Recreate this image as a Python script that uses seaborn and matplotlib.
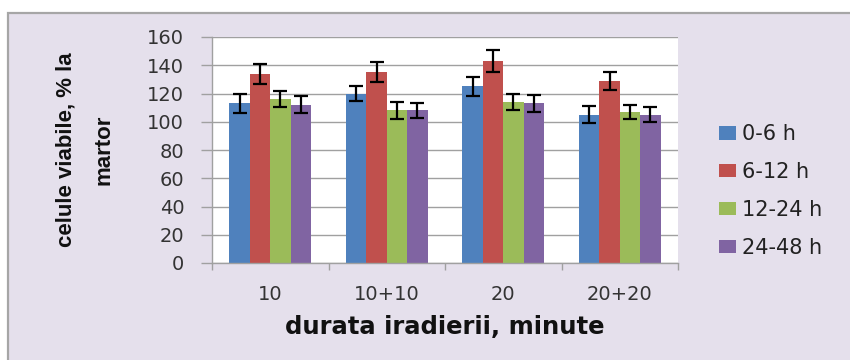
import matplotlib
matplotlib.use("Agg")
import matplotlib.pyplot as plt
import seaborn as sns
import pandas as pd
import numpy as np
from matplotlib.patches import Rectangle
from matplotlib.ticker import FixedLocator
from matplotlib import font_manager

# ---- data ----
categories = ["10", "10+10", "20", "20+20"]
series = ["0-6 h", "6-12 h", "12-24 h", "24-48 h"]
v_0_6 = [113, 120, 125, 105]
v_6_12 = [134, 135, 143, 129]
v_12_24 = [116, 108, 114, 107]
v_24_48 = [112, 108, 113, 105]
e_0_6 = [6.5, 5.5, 6.5, 6]
e_6_12 = [7, 7, 8, 6.5]
e_12_24 = [5.5, 6, 6, 5]
e_24_48 = [6, 5, 6, 5.5]
y_ticks = [0, 20, 40, 60, 80, 100, 120, 140, 160]

values = [v_0_6, v_6_12, v_12_24, v_24_48]
errors = [e_0_6, e_6_12, e_12_24, e_24_48]
colors = ["#4F81BD", "#C0504D", "#9BBB59", "#8064A2"]

df = pd.DataFrame({
    "cat": [c for s in series for c in categories],
    "series": [s for s in series for c in categories],
    "val": [v for vals in values for v in vals],
})

sns.set_theme(style="white")
plt.rcParams["font.family"] = ["DejaVu Sans"]

installed = {f.name for f in font_manager.fontManager.ttflist}
narrow = "Liberation Sans Narrow" if "Liberation Sans Narrow" in installed else "Liberation Sans"

fig = plt.figure(figsize=(8.5, 3.6), dpi=100)
fig.patch.set_facecolor("white")
W, H = 850, 360
# lavender chart area with grey frame (extends beyond right/bottom edges)
bg = Rectangle((8 / W, -0.1), 1.2, 1.1 - 13 / H, transform=fig.transFigure,
               facecolor="#E5E0EC", edgecolor="#A6A6A6", linewidth=1.6, zorder=-10)
fig.add_artist(bg)

ax = fig.add_axes([212 / W, 1 - 263 / H, (678 - 212) / W, (263 - 37) / H])
ax.set_facecolor("white")

sns.barplot(data=df, x="cat", y="val", hue="series", order=categories,
            hue_order=series, palette=colors, width=0.7, errorbar=None,
            saturation=1, ax=ax, zorder=2, linewidth=0)

# error bars at bar centers
for cont, errs, vals in zip(ax.containers, errors, values):
    xs = [p.get_x() + p.get_width() / 2 for p in cont.patches]
    ax.errorbar(xs, vals, yerr=errs, fmt="none", ecolor="black",
                elinewidth=1.6, capsize=5, capthick=1.6, zorder=5)

ax.set_ylim(0, 160)
ax.set_xlim(-0.5, 3.5)
ax.set_yticks(y_ticks)
ax.yaxis.grid(True, color="#A0A0A0", linewidth=1.0, zorder=0)
ax.set_axisbelow(True)
ax.xaxis.grid(False)

for s in ["top", "right"]:
    ax.spines[s].set_visible(False)
for s in ["left", "bottom"]:
    ax.spines[s].set_color("#A0A0A0")
    ax.spines[s].set_linewidth(1.0)

ax.tick_params(axis="y", which="major", direction="out", length=8, width=1,
               color="#A0A0A0", pad=12, labelsize=14, labelcolor="#333333",
               left=True)
ax.tick_params(axis="x", which="major", length=0, pad=16, labelsize=14,
               labelcolor="#333333")
ax.xaxis.set_minor_locator(FixedLocator([-0.5, 0.5, 1.5, 2.5, 3.5]))
ax.tick_params(axis="x", which="minor", direction="out", length=5, width=1,
               color="#A0A0A0", bottom=True)

ax.set_xlabel("durata iradierii, minute", fontsize=17.5, fontweight="bold",
              color="#111111", va="center")
ax.xaxis.set_label_coords(0.5, (263 - 327) / 226)
ax.set_ylabel("celule viabile, % la\nmartor", fontsize=16, fontweight="bold",
              family=[narrow, "DejaVu Sans"],
              color="#111111", va="center", ha="center", multialignment="center",
              linespacing=2.1)
ax.yaxis.set_label_coords((85 - 212) / 466, 0.5)

handles, labels = ax.get_legend_handles_labels()
ax.legend(handles, labels, loc="center left",
          bbox_to_anchor=(719 / W, 1 - 191 / H), bbox_transform=fig.transFigure,
          frameon=False, fontsize=15, labelcolor="#222222",
          handlelength=0.8, handleheight=0.6, handletextpad=0.3,
          labelspacing=0.85, borderpad=0, borderaxespad=0)

fig.savefig("out.png", dpi=100, facecolor=fig.get_facecolor())
